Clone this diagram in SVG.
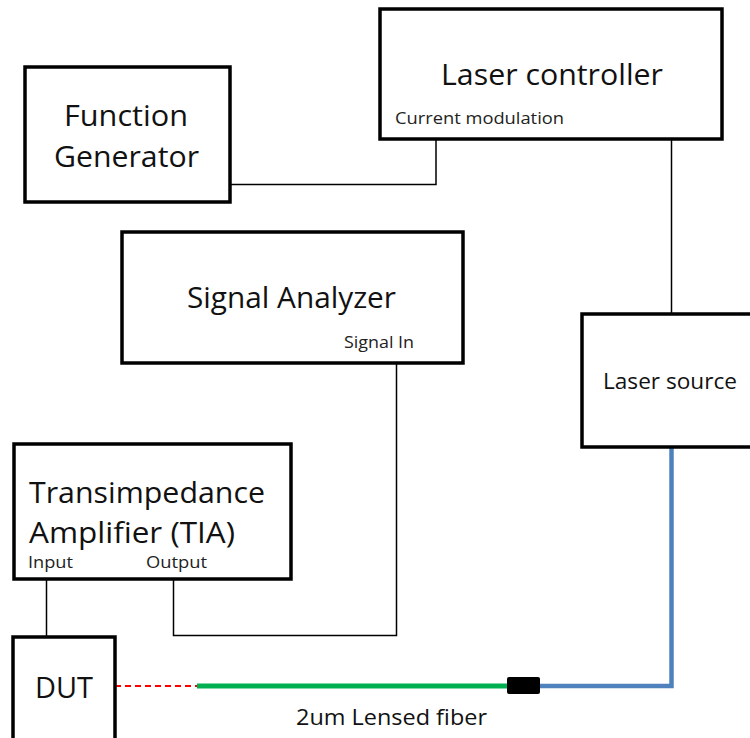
<svg xmlns="http://www.w3.org/2000/svg" width="750" height="738" viewBox="0 0 750 738">
  <style>
    .box { fill: #ffffff; stroke: #000000; stroke-width: 3.5; }
    .wire { fill: none; stroke: #000000; stroke-width: 1.5; }
    .big { font-family: "Open Sans", "Liberation Sans", sans-serif; font-size: 29px; fill: #111111; }
    .mid { font-family: "Open Sans", "Liberation Sans", sans-serif; font-size: 21px; fill: #111111; }
    .small { font-family: "Open Sans", "Liberation Sans", sans-serif; font-size: 16px; fill: #222222; }
  </style>
  <rect width="750" height="738" fill="#ffffff"/>

  <!-- Connectors -->
  <g id="connectors">
    <polyline class="wire" points="230,184.5 436,184.5 436,139"/>
    <line class="wire" x1="671.5" y1="139" x2="671.5" y2="314"/>
    <polyline class="wire" points="396.5,363 396.5,635.5 173.5,635.5 173.5,579"/>
    <line class="wire" x1="46.5" y1="579" x2="46.5" y2="636"/>
    <!-- optical path -->
    <line x1="115" y1="686" x2="197" y2="686" stroke="#ff0000" stroke-width="1.8" stroke-dasharray="6,4"/>
    <line x1="197" y1="686" x2="508" y2="686" stroke="#00b050" stroke-width="5"/>
    <polyline points="540,686 671.5,686 671.5,447" fill="none" stroke="#4f81bd" stroke-width="4.5"/>
    <rect x="507" y="677" width="33" height="17" rx="2" fill="#000000"/>
    <text class="mid" x="296" y="725" textLength="191" lengthAdjust="spacingAndGlyphs">2um Lensed fiber</text>
  </g>

  <g id="laser-controller">
    <rect class="box" x="380" y="9" width="342" height="130"/>
    <text class="big" x="441" y="85" textLength="222" lengthAdjust="spacingAndGlyphs">Laser controller</text>
    <text class="small" x="395" y="124" textLength="169" lengthAdjust="spacingAndGlyphs">Current modulation</text>
  </g>

  <g id="function-generator">
    <rect class="box" x="25" y="67" width="205" height="135"/>
    <text class="big" x="64" y="126" textLength="124" lengthAdjust="spacingAndGlyphs">Function</text>
    <text class="big" x="54" y="167" textLength="145" lengthAdjust="spacingAndGlyphs">Generator</text>
  </g>

  <g id="signal-analyzer">
    <rect class="box" x="122" y="232" width="341" height="131"/>
    <text class="big" x="187" y="308" textLength="209" lengthAdjust="spacingAndGlyphs">Signal Analyzer</text>
    <text class="small" x="344" y="348" textLength="70" lengthAdjust="spacingAndGlyphs">Signal In</text>
  </g>

  <g id="laser-source">
    <rect class="box" x="582" y="314" width="180" height="133"/>
    <text class="mid" x="603" y="389" textLength="134" lengthAdjust="spacingAndGlyphs">Laser source</text>
  </g>

  <g id="tia">
    <rect class="box" x="14" y="444" width="277" height="135"/>
    <text class="big" x="29" y="503" textLength="236" lengthAdjust="spacingAndGlyphs">Transimpedance</text>
    <text class="big" x="29" y="543" textLength="206" lengthAdjust="spacingAndGlyphs">Amplifier (TIA)</text>
    <text class="small" x="28" y="568" textLength="45" lengthAdjust="spacingAndGlyphs">Input</text>
    <text class="small" x="146" y="568" textLength="61" lengthAdjust="spacingAndGlyphs">Output</text>
  </g>

  <g id="dut">
    <rect class="box" x="13" y="637" width="102" height="110"/>
    <text class="big" x="35" y="698" textLength="58" lengthAdjust="spacingAndGlyphs">DUT</text>
  </g>
</svg>
